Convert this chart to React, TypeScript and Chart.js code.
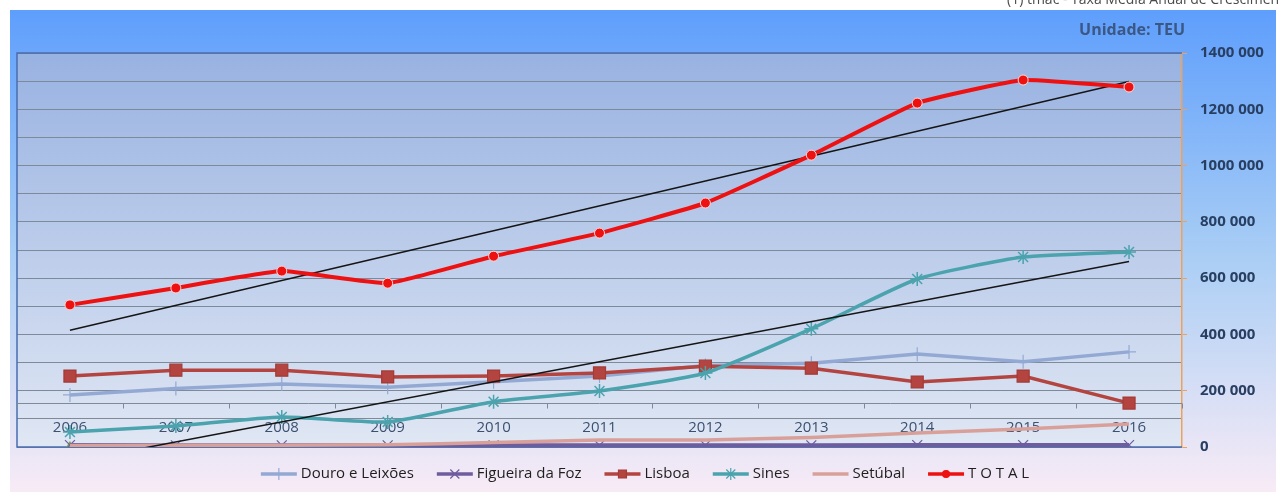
import { useEffect, useRef } from 'react';
import { Chart, registerables } from 'chart.js';

Chart.register(...registerables);

// Container traffic by port, in TEU
const YEARS = ['2006', '2007', '2008', '2009', '2010', '2011', '2012', '2013', '2014', '2015', '2016'];
const DOURO_LEIXOES = [185000, 208000, 224000, 212000, 232000, 252000, 290000, 298000, 330000, 303000, 338000];
const FIGUEIRA_FOZ = [7000, 6000, 6000, 6000, 6000, 6000, 6000, 6000, 7000, 7000, 7000];
const LISBOA = [252000, 273000, 273000, 249000, 252000, 263000, 287000, 280000, 231000, 252000, 156000];
const SINES = [53000, 75000, 107000, 89000, 161000, 199000, 263000, 420000, 597000, 675000, 693000];
const SETUBAL = [5000, 6000, 6500, 8000, 16000, 25000, 25000, 34000, 50000, 64000, 82000];
const TOTAL = [505000, 565000, 625000, 582000, 678000, 760000, 867000, 1037000, 1222000, 1304000, 1279000];
const FIRST_YEAR_POINT = [0, null, null, null, null, null, null, null, null, null, null];

const Y_MAX = 1400000;
const Y_GRID_STEP = 100000;
const Y_LABEL_STEP = 200000;
const CATEGORY_AXIS_CROSSES_AT = 156000;

const UNIT_TEXT = 'Unidade: TEU';
const NOTE_TEXT = '(1) tmac - Taxa Média Anual de Crescimento';

// least-squares linear trend, evaluated at the first and last category
function linearTrend(values: number[]): (number | null)[] {
  const n = values.length;
  const mx = (n - 1) / 2;
  const my = values.reduce((s, v) => s + v, 0) / n;
  let sxy = 0;
  let sxx = 0;
  values.forEach((v, i) => {
    sxy += (i - mx) * (v - my);
    sxx += (i - mx) * (i - mx);
  });
  const slope = sxy / sxx;
  const out: (number | null)[] = values.map(() => null);
  out[0] = my - slope * mx;
  out[n - 1] = my + slope * (n - 1 - mx);
  return out;
}

type MarkerStyle = 'circle' | 'rect' | 'cross' | 'crossRot' | 'star' | 'none';

function drawMarker(
  ctx: CanvasRenderingContext2D,
  style: MarkerStyle,
  x: number,
  y: number,
  r: number,
  fill: string,
  stroke: string,
  lw: number
) {
  if (style === 'none') return;
  ctx.save();
  ctx.lineWidth = lw;
  ctx.strokeStyle = stroke;
  ctx.fillStyle = fill;
  ctx.beginPath();
  if (style === 'circle') {
    ctx.arc(x, y, r, 0, Math.PI * 2);
    ctx.fill();
    ctx.stroke();
  } else if (style === 'rect') {
    ctx.rect(x - r, y - r, 2 * r, 2 * r);
    ctx.fill();
    ctx.stroke();
  } else {
    if (style === 'cross' || style === 'star') {
      ctx.moveTo(x, y - r);
      ctx.lineTo(x, y + r);
      ctx.moveTo(x - r, y);
      ctx.lineTo(x + r, y);
    }
    if (style === 'crossRot' || style === 'star') {
      const d = r * 0.75;
      ctx.moveTo(x - d, y - d);
      ctx.lineTo(x + d, y + d);
      ctx.moveTo(x - d, y + d);
      ctx.lineTo(x + d, y - d);
    }
    ctx.stroke();
  }
  ctx.restore();
}

type LegendEntry = { label: string; color: string; marker: MarkerStyle; fill: string; stroke: string };

const LEGEND: LegendEntry[] = [
  { label: 'Douro e Leixões', color: '#93a9d3', marker: 'cross', fill: '#93a9d3', stroke: '#93a9d3' },
  { label: 'Figueira da Foz', color: '#6e5c9e', marker: 'crossRot', fill: '#6e5c9e', stroke: '#6e5c9e' },
  { label: 'Lisboa', color: '#b3443f', marker: 'rect', fill: '#b3443f', stroke: '#a33b37' },
  { label: 'Sines', color: '#4aa3ad', marker: 'star', fill: '#4aa3ad', stroke: '#4aa3ad' },
  { label: 'Setúbal', color: '#d9a09a', marker: 'none', fill: '#d9a09a', stroke: '#d9a09a' },
  { label: 'T O T A L', color: '#ee1111', marker: 'circle', fill: '#ee1111', stroke: '#ee1111' },
];

const decorPlugin = {
  id: 'decor',
  beforeDraw(chart: any) {
    const { ctx, chartArea: a, width, height } = chart;
    ctx.save();
    ctx.fillStyle = '#ffffff';
    ctx.fillRect(0, 0, width, height);

    // note above the frame
    ctx.font = '14px "Open Sans"';
    ctx.fillStyle = '#4a4a4a';
    ctx.textAlign = 'left';
    ctx.textBaseline = 'alphabetic';
    ctx.fillText(NOTE_TEXT, 1007, 4);

    // outer frame
    const g = ctx.createLinearGradient(0, 10, 0, height);
    g.addColorStop(0, '#5e9efc');
    g.addColorStop(0.5, '#a8cdf5');
    g.addColorStop(1, '#f8ebf6');
    ctx.fillStyle = g;
    ctx.fillRect(10, 10, 1266, height - 10);

    // plot area
    const pg = ctx.createLinearGradient(0, a.top, 0, a.bottom);
    pg.addColorStop(0, '#98b2e1');
    pg.addColorStop(1, '#e0e7f4');
    ctx.fillStyle = pg;
    ctx.fillRect(a.left, a.top, a.right - a.left, a.bottom - a.top);

    // unit caption
    ctx.font = 'bold 16px "Open Sans"';
    ctx.fillStyle = '#3b5784';
    ctx.textAlign = 'right';
    ctx.textBaseline = 'middle';
    ctx.fillText(UNIT_TEXT, 1185, 30);
    ctx.restore();
  },
  beforeDatasetsDraw(chart: any) {
    const { ctx, chartArea: a, scales } = chart;
    const xs = scales.x;
    const ys = scales.y;
    ctx.save();

    // plot border (left, top, bottom)
    ctx.strokeStyle = '#4a6db0';
    ctx.lineWidth = 1.5;
    ctx.beginPath();
    ctx.moveTo(a.right, a.top);
    ctx.lineTo(a.left, a.top);
    ctx.lineTo(a.left, a.bottom);
    ctx.lineTo(a.right, a.bottom);
    ctx.stroke();

    // category axis crossing the value axis
    const yAxis = Math.round(ys.getPixelForValue(CATEGORY_AXIS_CROSSES_AT)) + 0.5;
    ctx.strokeStyle = '#7d8a9a';
    ctx.lineWidth = 1;
    ctx.beginPath();
    ctx.moveTo(a.left, yAxis);
    ctx.lineTo(a.right, yAxis);
    const step = xs.getPixelForValue(1) - xs.getPixelForValue(0);
    for (let i = 0; i <= YEARS.length; i++) {
      const x = Math.round(xs.getPixelForValue(i) - step / 2) + 0.5;
      ctx.moveTo(x, yAxis);
      ctx.lineTo(x, yAxis + 5);
    }
    ctx.stroke();

    ctx.font = '15px "Open Sans"';
    ctx.fillStyle = '#3c5070';
    ctx.textAlign = 'center';
    ctx.textBaseline = 'middle';
    YEARS.forEach((yr, i) => {
      ctx.fillText(yr, xs.getPixelForValue(i), yAxis + 24);
    });
    ctx.restore();
  },
  afterDraw(chart: any) {
    const { ctx } = chart;
    ctx.save();
    ctx.font = '15px "Open Sans"';
    const sample = 36;
    const textGap = 4;
    const itemGap = 23;
    const widths = LEGEND.map((e) => sample + textGap + ctx.measureText(e.label).width);
    const total = widths.reduce((s, w) => s + w, 0) + itemGap * (LEGEND.length - 1);
    let x = 645 - total / 2;
    const y = 474;
    LEGEND.forEach((e, i) => {
      ctx.strokeStyle = e.color;
      ctx.lineWidth = 3.5;
      ctx.beginPath();
      ctx.moveTo(x, y);
      ctx.lineTo(x + sample, y);
      ctx.stroke();
      const r = e.marker === 'rect' ? 4 : e.marker === 'circle' ? 3.5 : 6;
      drawMarker(ctx, e.marker, x + sample / 2, y, r, e.fill, e.stroke, 1.2);
      ctx.fillStyle = '#1e1e1e';
      ctx.textAlign = 'left';
      ctx.textBaseline = 'middle';
      ctx.fillText(e.label, x + sample + textGap, y);
      x += widths[i] + itemGap;
    });
    ctx.restore();
  },
};

function formatTick(v: number): string {
  if (v === 0) return '0';
  return `${Math.floor(v / 1000)} 000`;
}

export default function App() {
  const canvasRef = useRef<HTMLCanvasElement | null>(null);

  useEffect(() => {
    document.body.style.margin = '0';
    const canvas = canvasRef.current;
    if (!canvas) return;

    const series = (
      label: string,
      data: (number | null)[],
      color: string,
      pointStyle: any,
      radius: number,
      order: number,
      extra: Record<string, any> = {}
    ) => ({
      label,
      data,
      borderColor: color,
      backgroundColor: color,
      borderWidth: 3.5,
      pointStyle,
      pointRadius: radius,
      pointBorderColor: color,
      pointBackgroundColor: color,
      pointBorderWidth: 1.2,
      tension: 0,
      order,
      ...extra,
    });

    const chart = new Chart(canvas, {
      type: 'line',
      data: {
        labels: YEARS,
        datasets: [
          series('T O T A L', TOTAL, '#ee1111', 'circle', 5, 0, {
            pointBorderColor: '#ffd8d8',
            pointBorderWidth: 1,
            borderWidth: 4,
            tension: 0.12,
          }),
          series('Tendência TOTAL', linearTrend(TOTAL), '#151515', false, 0, 1, {
            borderWidth: 1.5,
            spanGaps: true,
          }),
          series('Tendência Sines', linearTrend(SINES), '#151515', false, 0, 2, {
            borderWidth: 1.5,
            spanGaps: true,
          }),
          series('Sines', SINES, '#4aa3ad', 'star', 7, 3, { tension: 0.18, pointBorderWidth: 1.5 }),
          series('Lisboa', LISBOA, '#b3443f', 'rect', 8.5, 4, { pointBorderColor: '#a33b37' }),
          series('Douro e Leixões', DOURO_LEIXOES, '#93a9d3', 'cross', 7, 5),
          series('Setúbal', SETUBAL, '#d9a09a', false, 0, 6, { tension: 0.15 }),
          series('Figueira da Foz', FIGUEIRA_FOZ, '#6e5c9e', 'crossRot', 7, 7, { borderWidth: 4 }),
          series('', FIRST_YEAR_POINT, '#78ac40', 'triangle', 5, 8, { showLine: false }),
        ],
      },
      options: {
        animation: false,
        responsive: false,
        devicePixelRatio: 1,
        layout: { padding: { left: 17, top: 53, bottom: 45, right: 0 } },
        plugins: {
          legend: { display: false },
          tooltip: { enabled: false },
        },
        scales: {
          x: {
            display: false,
            offset: true,
          },
          y: {
            position: 'right',
            min: 0,
            max: Y_MAX,
            afterFit: (scale: any) => {
              scale.width = 97;
            },
            ticks: {
              stepSize: Y_GRID_STEP,
              autoSkip: false,
              padding: 13,
              color: '#283f62',
              font: { family: '"Open Sans"', size: 15, weight: 'bold' },
              callback: (v: any) => (Number(v) % Y_LABEL_STEP === 0 ? formatTick(Number(v)) : ''),
            },
            grid: {
              color: '#7d8a9a',
              lineWidth: 1,
              drawTicks: true,
              tickLength: 5,
              tickColor: (c: any) =>
                c.tick && c.tick.value % Y_LABEL_STEP === 0 ? '#eea15a' : 'rgba(0,0,0,0)',
            },
            border: { display: true, color: '#eea15a', width: 1.5 },
          },
        },
      } as any,
      plugins: [decorPlugin],
    });

    return () => chart.destroy();
  }, []);

  return (
    <div style={{ position: 'absolute', left: 0, top: 0, width: 1279, height: 492 }}>
      <canvas ref={canvasRef} width={1279} height={492} style={{ display: 'block' }} />
    </div>
  );
}
